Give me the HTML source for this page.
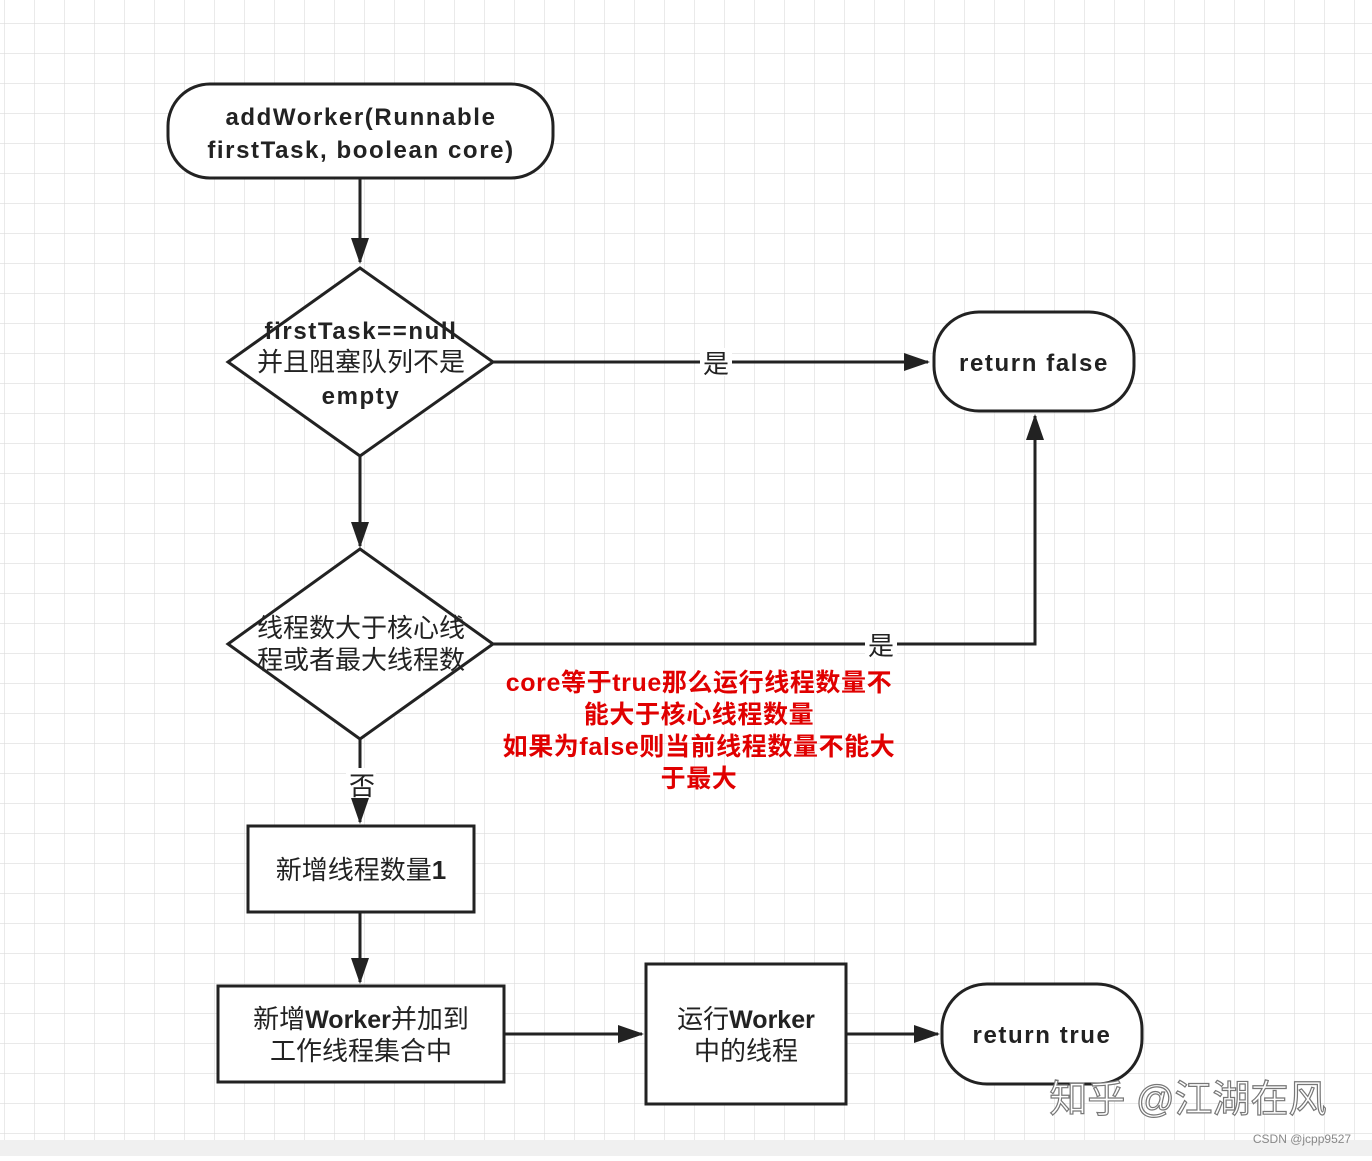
<!DOCTYPE html>
<html><head><meta charset="utf-8"><style>
html,body{margin:0;padding:0;}
body{width:1372px;height:1156px;overflow:hidden;background:#fff;}
svg text{font-family:"Liberation Sans","Noto Sans CJK SC",sans-serif;}
</style></head><body>
<svg width="1372" height="1156" xmlns="http://www.w3.org/2000/svg">
<defs>
<pattern id="g" x="4" y="23" width="30" height="30" patternUnits="userSpaceOnUse">
<path d="M0 0V30M0 0H30" stroke="#dcdcdc" stroke-width="1.2" fill="none"/>
</pattern>
<marker id="b" markerWidth="26" markerHeight="20" refX="24" refY="9" orient="auto" markerUnits="userSpaceOnUse"><path d="M0 0L26 9L0 18z" fill="#222"/></marker>
</defs>
<rect width="1372" height="1140" fill="url(#g)"/>
<rect y="1140" width="1372" height="16" fill="#f0f0f0"/>
<g stroke="#222" stroke-width="3" fill="#fff">
<rect x="168" y="84" width="385" height="94" rx="42"/>
<polygon points="360,268 493,362 360,456 228,362"/>
<polygon points="360,549 493,644 360,739 228,644"/>
<rect x="934" y="312" width="200" height="99" rx="45"/>
<rect x="248" y="826" width="226" height="86"/>
<rect x="218" y="986" width="286" height="96"/>
<rect x="646" y="964" width="200" height="140"/>
<rect x="942" y="984" width="200" height="100" rx="45"/>
</g>
<g stroke="#222" stroke-width="3" fill="none" marker-end="url(#b)">
<line x1="360" y1="178" x2="360" y2="262"/>
<line x1="360" y1="456" x2="360" y2="546"/>
<path d="M493 362H928"/>
<path d="M493 644H1035V416"/>
<path d="M360 739V822"/>
<line x1="360" y1="912" x2="360" y2="982"/>
<line x1="504" y1="1034" x2="642" y2="1034"/>
<line x1="846" y1="1034" x2="938" y2="1034"/>
</g>
<rect x="700" y="348" width="32" height="28" fill="#fff"/>
<rect x="865" y="630" width="32" height="28" fill="#fff"/>
<rect x="346" y="768" width="30" height="30" fill="#fff"/>
<g font-size="24" fill="#222" text-anchor="middle" font-weight="bold" letter-spacing="1.6">
<text x="361" y="125">addWorker(Runnable</text>
<text x="361" y="158">firstTask, boolean core)</text>
<text x="361" y="339">firstTask==null</text>
<text x="1034" y="371">return false</text>
<text x="361" y="404">empty</text>
<text x="1042" y="1043">return true</text>
</g>
<g font-size="26" fill="#222" text-anchor="middle">
<text x="361" y="371">并且阻塞队列不是</text>
<text x="361" y="637">线程数大于核心线</text>
<text x="361" y="669">程或者最大线程数</text>
<text x="716" y="373">是</text>
<text x="881" y="655">是</text>
<text x="362" y="795">否</text>
<text x="361" y="879">新增线程数量<tspan font-weight="bold">1</tspan></text>
<text x="361" y="1028">新增<tspan font-weight="bold" font-size="25">Worker</tspan>并加到</text>
<text x="361" y="1060">工作线程集合中</text>
<text x="746" y="1028">运行<tspan font-weight="bold" font-size="25">Worker</tspan></text>
<text x="746" y="1060">中的线程</text>
</g>
<g font-size="25" fill="#e00000" text-anchor="middle" font-weight="bold" letter-spacing="0.6">
<text x="699" y="691">core等于true那么运行线程数量不</text>
<text x="699" y="723">能大于核心线程数量</text>
<text x="699" y="755">如果为false则当前线程数量不能大</text>
<text x="699" y="787">于最大</text>
</g>
<text x="1188" y="1112" font-size="38" fill="#fff" stroke="#777" stroke-width="1.2" text-anchor="middle">知乎 @江湖在风</text>
<text x="1302" y="1143" font-size="12" fill="#888" text-anchor="middle">CSDN @jcpp9527</text>
</svg>
</body></html>
